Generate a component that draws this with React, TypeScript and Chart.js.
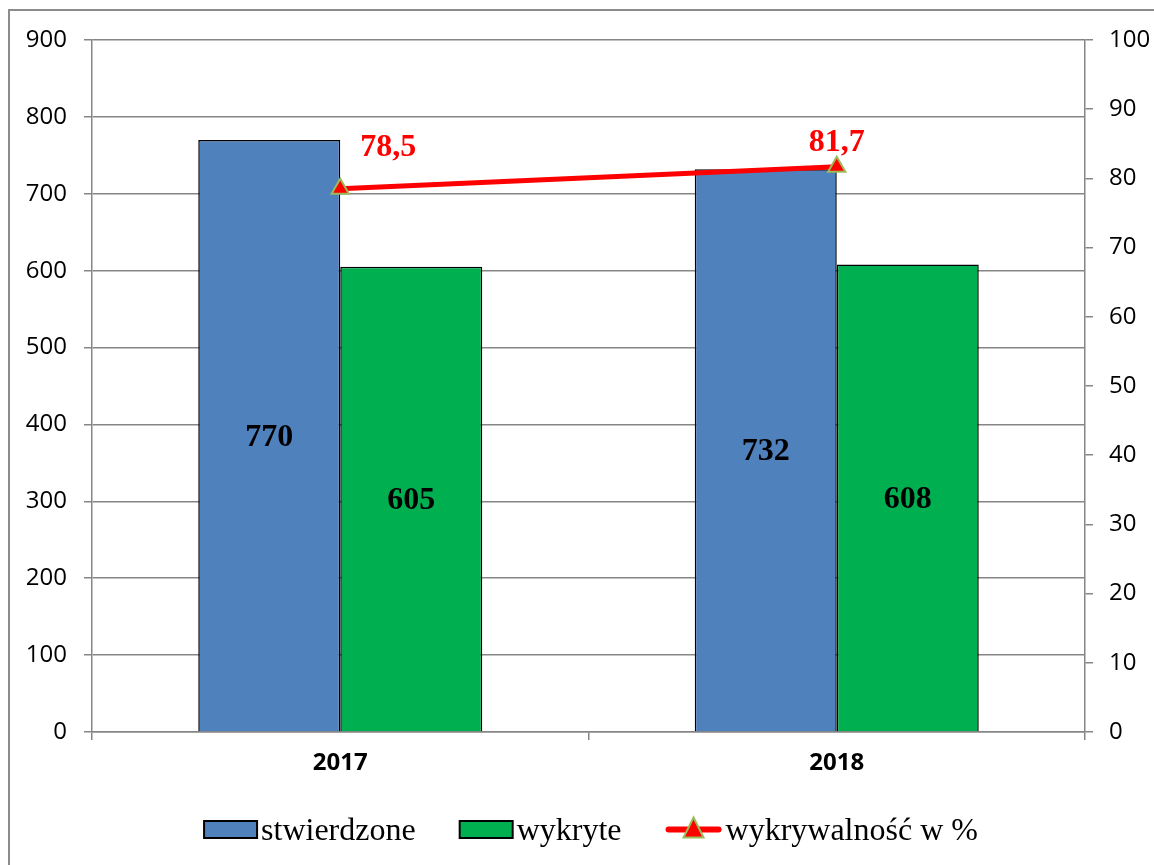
import React, { useEffect, useRef } from "react";
import { Chart, registerables } from "chart.js";

Chart.register(...registerables);

const categories = ["2017", "2018"];
const stwierdzone = [770, 732];
const wykryte = [605, 608];
const wykrywalnosc = [78.5, 81.7];
const seriesNames = ["stwierdzone", "wykryte", "wykrywalność w %"];

const BLUE = "#4F81BD";
const GREEN = "#00B050";
const RED = "#FF0000";
const MARKER_BORDER = "#9BBB59";
const GRID = "#868686";

const fmt = (v: number) => String(v).replace(".", ",");

const bgPlugin = {
  id: "bgBorder",
  beforeDraw(chart: any) {
    const ctx = chart.ctx;
    ctx.save();
    ctx.fillStyle = "#fff";
    ctx.fillRect(0, 0, chart.width, chart.height);
    ctx.strokeStyle = "#8c8c8c";
    ctx.lineWidth = 2;
    ctx.beginPath();
    ctx.moveTo(9, chart.height + 5);
    ctx.lineTo(9, 10);
    ctx.lineTo(chart.width + 5, 10);
    ctx.stroke();
    ctx.restore();
  },
};

const labelPlugin = {
  id: "dataLabels",
  afterDatasetsDraw(chart: any) {
    const ctx = chart.ctx;
    ctx.save();
    ctx.textAlign = "center";
    ctx.textBaseline = "middle";
    chart.data.datasets.forEach((ds: any, di: number) => {
      const meta = chart.getDatasetMeta(di);
      meta.data.forEach((el: any, i: number) => {
        const v = ds.data[i];
        ctx.font = "bold 32px 'Liberation Serif', 'Times New Roman', serif";
        if (ds.type === "line") {
          ctx.fillStyle = RED;
          const dx = i === 0 ? 48 : 0;
          const dy = i === 0 ? -41 : -24;
          ctx.fillText(fmt(v), el.x + dx, el.y + dy);
        } else {
          ctx.fillStyle = "#000";
          ctx.fillText(fmt(v), el.x, (el.y + el.base) / 2 + 2);
        }
      });
    });
    ctx.restore();
  },
};

const legendPlugin = {
  id: "customLegend",
  afterDraw(chart: any) {
    const ctx = chart.ctx;
    ctx.save();
    ctx.font = "32px 'Liberation Serif', 'Times New Roman', serif";
    ctx.textBaseline = "alphabetic";
    const boxW = 53;
    const lineW = 56;
    const gapText = 4;
    const gapItem = 44;
    const kinds = ["box", "box", "line"];
    const colors = [BLUE, GREEN, RED];
    const widths = seriesNames.map(
      (n, i) => (kinds[i] === "box" ? boxW : lineW) + gapText + ctx.measureText(n).width
    );
    const total = widths.reduce((a, b) => a + b, 0) + gapItem * (seriesNames.length - 1);
    let x = 591 - total / 2;
    const cy = 829.5;
    const baseline = 840;
    seriesNames.forEach((n, i) => {
      if (kinds[i] === "box") {
        ctx.fillStyle = colors[i];
        ctx.fillRect(x, cy - 8.5, boxW, 17);
        ctx.strokeStyle = "#000";
        ctx.lineWidth = 2;
        ctx.strokeRect(x, cy - 8.5, boxW, 17);
        x += boxW + gapText;
      } else {
        ctx.strokeStyle = RED;
        ctx.lineWidth = 6;
        ctx.lineCap = "round";
        ctx.beginPath();
        ctx.moveTo(x + 3, cy);
        ctx.lineTo(x + lineW - 3, cy);
        ctx.stroke();
        const tx = x + lineW / 2;
        ctx.beginPath();
        ctx.moveTo(tx, cy - 12);
        ctx.lineTo(tx + 10, cy + 8);
        ctx.lineTo(tx - 10, cy + 8);
        ctx.closePath();
        ctx.fillStyle = RED;
        ctx.fill();
        ctx.strokeStyle = MARKER_BORDER;
        ctx.lineWidth = 2;
        ctx.lineJoin = "miter";
        ctx.stroke();
        x += lineW + gapText;
      }
      ctx.fillStyle = "#000";
      ctx.textAlign = "left";
      ctx.fillText(n, x, baseline);
      x += ctx.measureText(n).width + gapItem;
    });
    ctx.restore();
  },
};

export default function App() {
  const ref = useRef<HTMLCanvasElement>(null);
  useEffect(() => {
    if (!ref.current) return;
    const tickFont = { family: "'Open Sans', sans-serif", size: 24 };
    const chart = new Chart(ref.current, {
      type: "bar",
      data: {
        labels: categories,
        datasets: [
          {
            type: "bar",
            label: seriesNames[0],
            data: stwierdzone,
            backgroundColor: BLUE,
            borderColor: "#000",
            borderWidth: 1.5,
            yAxisID: "y",
            categoryPercentage: 0.572,
            barPercentage: 1,
            order: 1,
          },
          {
            type: "bar",
            label: seriesNames[1],
            data: wykryte,
            backgroundColor: GREEN,
            borderColor: "#000",
            borderWidth: 1.5,
            yAxisID: "y",
            categoryPercentage: 0.572,
            barPercentage: 1,
            order: 1,
          },
          {
            type: "line",
            label: seriesNames[2],
            data: wykrywalnosc,
            borderColor: RED,
            borderWidth: 5,
            backgroundColor: RED,
            pointStyle: "triangle",
            pointRadius: 10,
            pointBorderColor: MARKER_BORDER,
            pointBackgroundColor: RED,
            pointBorderWidth: 2,
            yAxisID: "y1",
            order: -1,
            tension: 0,
          } as any,
        ],
      },
      options: {
        responsive: false,
        animation: false,
        devicePixelRatio: 1,
        layout: { padding: { top: 40, left: 0, right: 0, bottom: 0 } },
        plugins: {
          legend: { display: false },
          tooltip: { enabled: false },
          title: { display: false },
        },
        scales: {
          x: {
            offset: true,
            grid: {
              offset: true,
              drawOnChartArea: false,
              drawTicks: true,
              tickLength: 8,
              color: GRID,
              lineWidth: 1.5,
            },
            border: { color: GRID, width: 1.5 },
            ticks: {
              font: { ...tickFont, weight: "bold" },
              color: "#000",
              padding: 9,
            },
            afterFit: (s: any) => {
              s.height = 133;
            },
          },
          y: {
            position: "left",
            min: 0,
            max: 900,
            ticks: { stepSize: 100, font: tickFont, color: "#000", padding: 17 },
            grid: { color: GRID, lineWidth: 1.5, tickLength: 8 },
            border: { color: GRID, width: 1.5 },
            afterFit: (s: any) => {
              s.width = 92;
            },
          },
          y1: {
            position: "right",
            min: 0,
            max: 100,
            ticks: { stepSize: 10, font: tickFont, color: "#000", padding: 16 },
            grid: { drawOnChartArea: false, color: GRID, lineWidth: 1.5, tickLength: 8 },
            border: { color: GRID, width: 1.5 },
            afterFit: (s: any) => {
              s.width = 69;
            },
          },
        },
      } as any,
      plugins: [bgPlugin, labelPlugin, legendPlugin],
    });
    return () => chart.destroy();
  }, []);
  return (
    <div style={{ position: "absolute", left: 0, top: 0, width: 1154, height: 865 }}>
      <canvas ref={ref} width={1154} height={865} style={{ display: "block" }} />
    </div>
  );
}
